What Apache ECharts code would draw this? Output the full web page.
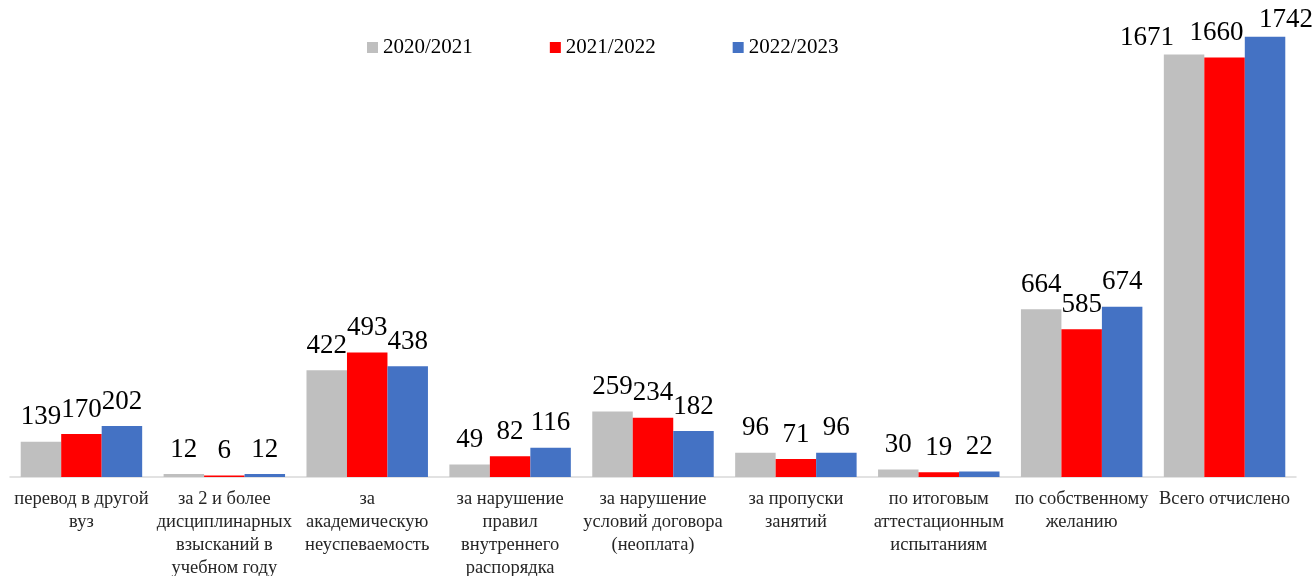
<!DOCTYPE html>
<html><head><meta charset="utf-8">
<script src="https://cdn.jsdelivr.net/npm/echarts@6/dist/echarts.min.js"></script>
<style>html,body{margin:0;padding:0;background:#fff}#c{width:1314px;height:576px}</style>
</head><body><div id="c"></div>
<script>
const categories = [
  "перевод в другой\nвуз",
  "за 2 и более\nдисциплинарных\nвзысканий в\nучебном году",
  "за\nакадемическую\nнеуспеваемость",
  "за нарушение\nправил\nвнутреннего\nраспорядка",
  "за нарушение\nусловий договора\n(неоплата)",
  "за пропуски\nзанятий",
  "по итоговым\nаттестационным\nиспытаниям",
  "по собственному\nжеланию",
  "Всего отчислено"
];
const seriesNames = ["2020/2021", "2021/2022", "2022/2023"];
const v2020 = [139, 12, 422, 49, 259, 96, 30, 664, 1671];
const v2021 = [170, 6, 493, 82, 234, 71, 19, 585, 1660];
const v2022 = [202, 12, 438, 116, 182, 96, 22, 674, 1742];
const colors = ["#BFBFBF", "#FF0000", "#4472C4"];

// manual label nudges for the last category (as in the original layout)
const lastOffsets = [[-37, 8], [-8, 0], [21, 8]];

const font = "'Liberation Serif','Times New Roman',serif";
const chart = echarts.init(document.getElementById('c'));
const mk = (si, data) => ({
  name: seriesNames[si], type: 'bar', barGap: '0%', barCategoryGap: '15%',
  data: data.map((v, i) => i === data.length - 1 ? { value: v, label: { offset: lastOffsets[si] } } : v),
  itemStyle: { color: colors[si] },
  label: { show: true, position: 'top', distance: 11, fontFamily: font, fontSize: 27, color: '#000' }
});
chart.setOption({
  animation: false,
  color: colors,
  legend: {
    top: 32, left: 362, itemWidth: 11, itemHeight: 11, itemGap: 77, icon: 'rect',
    textStyle: { fontFamily: font, fontSize: 21, color: '#000' },
    data: seriesNames
  },
  grid: { left: 10, right: 18, top: 22, bottom: 99, containLabel: false, outerBoundsMode: 'none' },
  xAxis: {
    type: 'category', data: categories,
    axisLine: { lineStyle: { color: '#D9D9D9', width: 1.5 } },
    axisTick: { show: false },
    axisLabel: { interval: 0, margin: 11, fontFamily: font, fontSize: 18.5, lineHeight: 23, color: '#262626' }
  },
  yAxis: { type: 'value', min: 0, max: 1800, show: false, splitLine: { show: false } },
  series: [mk(0, v2020), mk(1, v2021), mk(2, v2022)]
});
</script></body></html>
